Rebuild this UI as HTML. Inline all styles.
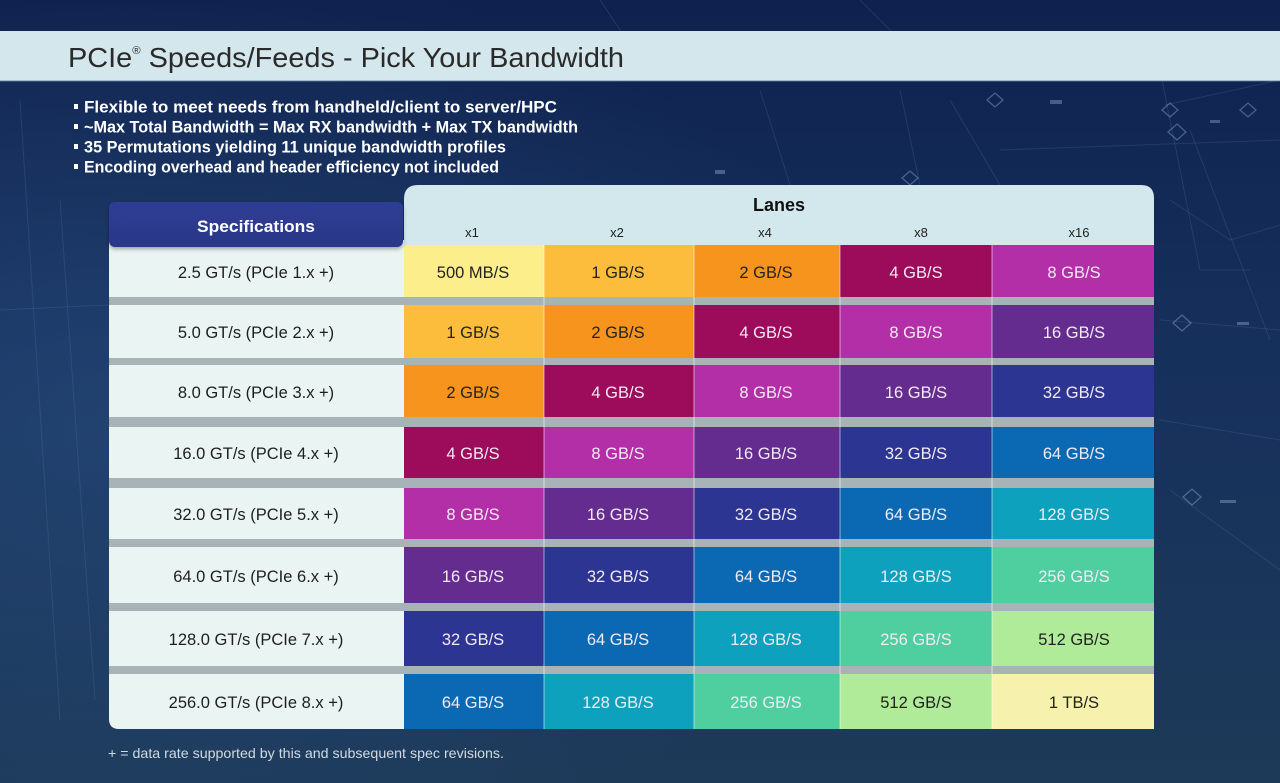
<!DOCTYPE html>
<html><head><meta charset="utf-8"><style>
html,body{margin:0;padding:0;width:1280px;height:783px;overflow:hidden;background:#152a52}
svg{display:block}
text{font-family:"Liberation Sans",sans-serif}
</style></head><body>
<svg width="1280" height="783" viewBox="0 0 1280 783" xmlns="http://www.w3.org/2000/svg">
<defs>
<linearGradient id="bg" x1="0" y1="0" x2="0" y2="1">
<stop offset="0" stop-color="#0f214e"/>
<stop offset="0.45" stop-color="#16305c"/>
<stop offset="1" stop-color="#1d3a58"/>
</linearGradient>
<radialGradient id="glow" cx="0.1" cy="0.55" r="0.6">
<stop offset="0" stop-color="#2a4f80" stop-opacity="0.55"/>
<stop offset="1" stop-color="#2a4f80" stop-opacity="0"/>
</radialGradient>
<linearGradient id="spec" x1="0" y1="0" x2="0" y2="1">
<stop offset="0" stop-color="#2f3d95"/>
<stop offset="1" stop-color="#2a3788"/>
</linearGradient>
<filter id="sh" x="-10%" y="-30%" width="120%" height="170%">
<feDropShadow dx="0" dy="2" stdDeviation="2" flood-color="#000" flood-opacity="0.35"/>
</filter>
</defs>
<rect x="0" y="0" width="1280" height="783" fill="url(#bg)"/>
<rect x="0" y="0" width="1280" height="783" fill="url(#glow)"/>
<!-- circuit decorations -->
<g stroke="#5f86b8" stroke-opacity="0.22" stroke-width="1" fill="none">
<path d="M1160 70 L1200 270 L1250 270"/>
<path d="M1165 105 L1280 80"/>
<path d="M1170 200 L1230 240 L1280 225"/>
<path d="M1190 130 L1270 340"/>
<path d="M1160 320 L1280 330"/>
<path d="M1160 420 L1280 440"/>
<path d="M1170 490 L1280 570"/>
<path d="M600 0 L640 60"/><path d="M860 0 L900 40"/>
<path d="M760 90 L790 185"/><path d="M900 90 L920 185"/>
<path d="M950 100 L1000 185"/><path d="M1000 150 L1280 140"/>
<path d="M20 100 L60 720"/><path d="M60 200 L95 700"/>
<path d="M0 310 L108 305"/>
</g>
<g stroke="#9fc3e6" stroke-opacity="0.4" stroke-width="1.2" fill="none">
<path d="M1188 65 l9 -8 l9 8 l-9 8z"/>
<path d="M1168 132 l9 -8 l9 8 l-9 8z"/>
<path d="M1173 323 l9 -8 l9 8 l-9 8z"/>
<path d="M1183 497 l9 -8 l9 8 l-9 8z"/>
<path d="M987 100 l8 -7 l8 7 l-8 7z"/>
<path d="M1162 110 l8 -7 l8 7 l-8 7z"/>
<path d="M902 178 l8 -7 l8 7 l-8 7z"/>
<path d="M1240 110 l8 -7 l8 7 l-8 7z"/>
</g>
<g fill="#8fb6dc" fill-opacity="0.4">
<rect x="1210" y="120" width="10" height="3"/>
<rect x="1237" y="322" width="12" height="3"/>
<rect x="1220" y="500" width="16" height="3"/>
<rect x="1180" y="72" width="12" height="3"/>
<rect x="715" y="170" width="10" height="4"/>
<rect x="1050" y="100" width="12" height="4"/>
</g>

<!-- title bar -->
<rect x="0" y="31" width="1280" height="50" fill="#d4e7ec"/>
<rect x="0" y="80" width="1280" height="1.5" fill="#7f9eb4" opacity="0.6"/>
<text x="68" y="67" font-size="28" fill="#2a2a2a" textLength="556" lengthAdjust="spacingAndGlyphs">PCIe<tspan font-size="11" dy="-13">®</tspan><tspan dy="13"> Speeds/Feeds - Pick Your Bandwidth</tspan></text>

<!-- bullets -->
<g fill="#ffffff">
<rect x="74" y="104" width="4" height="5"/>
<rect x="74" y="124" width="4" height="5"/>
<rect x="74" y="144" width="4" height="5"/>
<rect x="74" y="164" width="4" height="5"/>
</g>
<g font-size="17" font-weight="bold" fill="#ffffff">
<text x="84" y="112.5" textLength="473" lengthAdjust="spacingAndGlyphs">Flexible to meet needs from handheld/client to server/HPC</text>
<text x="84" y="132.5" textLength="494" lengthAdjust="spacingAndGlyphs">~Max Total Bandwidth = Max RX bandwidth + Max TX bandwidth</text>
<text x="84" y="152.5" textLength="422" lengthAdjust="spacingAndGlyphs">35 Permutations yielding 11 unique bandwidth profiles</text>
<text x="84" y="172.5" textLength="415" lengthAdjust="spacingAndGlyphs">Encoding overhead and header efficiency not included</text>
</g>

<!-- header panel -->
<path d="M404 247 L404 199 Q404 185 418 185 L1141 185 Q1154 185 1154 198 L1154 247 Z" fill="#d3e8ec"/>
<text x="779" y="211" font-size="18" font-weight="bold" fill="#111" text-anchor="middle">Lanes</text>
<g font-size="13" fill="#222" text-anchor="middle">
<text x="472" y="237">x1</text>
<text x="617" y="237">x2</text>
<text x="765" y="237">x4</text>
<text x="921" y="237">x8</text>
<text x="1079" y="237">x16</text>
</g>

<!-- left column -->
<path d="M109 240 L404 240 L404 729 L119 729 Q109 729 109 719 Z" fill="#eaf5f3"/>

<!-- gap bars -->
<g fill="#a8b3b8">
<rect x="109" y="297" width="1045" height="8"/>
<rect x="109" y="358" width="1045" height="7"/>
<rect x="109" y="417" width="1045" height="10"/>
<rect x="109" y="478" width="1045" height="10"/>
<rect x="109" y="539" width="1045" height="8"/>
<rect x="109" y="603" width="1045" height="8"/>
<rect x="109" y="666" width="1045" height="8"/>
</g>

<!-- cells -->
<g id="cells">
<rect x="404" y="245" width="140" height="52" fill="#fdee8c"/>
<rect x="544" y="245" width="150" height="52" fill="#fbbd3b"/>
<rect x="694" y="245" width="146" height="52" fill="#f7941e"/>
<rect x="840" y="245" width="152" height="52" fill="#9d0b5b"/>
<rect x="992" y="245" width="162" height="52" fill="#b32fa8"/>
<rect x="404" y="305" width="140" height="53" fill="#fbbd3b"/>
<rect x="544" y="305" width="150" height="53" fill="#f7941e"/>
<rect x="694" y="305" width="146" height="53" fill="#9d0b5b"/>
<rect x="840" y="305" width="152" height="53" fill="#b32fa8"/>
<rect x="992" y="305" width="162" height="53" fill="#642c8f"/>
<rect x="404" y="365" width="140" height="52" fill="#f7941e"/>
<rect x="544" y="365" width="150" height="52" fill="#9d0b5b"/>
<rect x="694" y="365" width="146" height="52" fill="#b32fa8"/>
<rect x="840" y="365" width="152" height="52" fill="#642c8f"/>
<rect x="992" y="365" width="162" height="52" fill="#2d3593"/>
<rect x="404" y="427" width="140" height="51" fill="#9d0b5b"/>
<rect x="544" y="427" width="150" height="51" fill="#b32fa8"/>
<rect x="694" y="427" width="146" height="51" fill="#642c8f"/>
<rect x="840" y="427" width="152" height="51" fill="#2d3593"/>
<rect x="992" y="427" width="162" height="51" fill="#0b69b4"/>
<rect x="404" y="488" width="140" height="51" fill="#b32fa8"/>
<rect x="544" y="488" width="150" height="51" fill="#642c8f"/>
<rect x="694" y="488" width="146" height="51" fill="#2d3593"/>
<rect x="840" y="488" width="152" height="51" fill="#0b69b4"/>
<rect x="992" y="488" width="162" height="51" fill="#0ea1bd"/>
<rect x="404" y="547" width="140" height="56" fill="#642c8f"/>
<rect x="544" y="547" width="150" height="56" fill="#2d3593"/>
<rect x="694" y="547" width="146" height="56" fill="#0b69b4"/>
<rect x="840" y="547" width="152" height="56" fill="#0ea1bd"/>
<rect x="992" y="547" width="162" height="56" fill="#4fce9f"/>
<rect x="404" y="611" width="140" height="55" fill="#2d3593"/>
<rect x="544" y="611" width="150" height="55" fill="#0b69b4"/>
<rect x="694" y="611" width="146" height="55" fill="#0ea1bd"/>
<rect x="840" y="611" width="152" height="55" fill="#4fce9f"/>
<rect x="992" y="611" width="162" height="55" fill="#afeb98"/>
<rect x="404" y="674" width="140" height="55" fill="#0b69b4"/>
<rect x="544" y="674" width="150" height="55" fill="#0ea1bd"/>
<rect x="694" y="674" width="146" height="55" fill="#4fce9f"/>
<rect x="840" y="674" width="152" height="55" fill="#afeb98"/>
<rect x="992" y="674" width="162" height="55" fill="#f6f2ae"/>
</g>
<!-- thin separators -->
<g fill="#ffffff" opacity="0.55">
<rect x="543.5" y="245" width="1" height="484"/>
<rect x="693.5" y="245" width="1" height="484"/>
<rect x="839.5" y="245" width="1" height="484"/>
<rect x="991.5" y="245" width="1" height="484"/>
</g>

<!-- specifications box -->
<rect x="109" y="202" width="294" height="45" rx="6" fill="url(#spec)" filter="url(#sh)"/>
<text x="256" y="232" font-size="17" font-weight="bold" fill="#ffffff" text-anchor="middle" textLength="118" lengthAdjust="spacingAndGlyphs">Specifications</text>

<!-- row labels -->
<g font-size="16.5" fill="#1e1e1e" text-anchor="middle">
<text x="256" y="278">2.5 GT/s (PCIe 1.x +)</text>
<text x="256" y="338">5.0 GT/s (PCIe 2.x +)</text>
<text x="256" y="398">8.0 GT/s (PCIe 3.x +)</text>
<text x="256" y="459">16.0 GT/s (PCIe 4.x +)</text>
<text x="256" y="520">32.0 GT/s (PCIe 5.x +)</text>
<text x="256" y="582">64.0 GT/s (PCIe 6.x +)</text>
<text x="256" y="645">128.0 GT/s (PCIe 7.x +)</text>
<text x="256" y="708">256.0 GT/s (PCIe 8.x +)</text>
</g>

<!-- cell values -->
<g font-size="16.5" text-anchor="middle">
<g fill="#222">
<text x="473" y="278">500 MB/S</text>
<text x="618" y="278">1 GB/S</text>
<text x="766" y="278">2 GB/S</text>
<text x="473" y="338">1 GB/S</text>
<text x="618" y="338">2 GB/S</text>
<text x="473" y="398">2 GB/S</text>
<text x="1074" y="645">512 GB/S</text>
<text x="916" y="708">512 GB/S</text>
<text x="1074" y="708">1 TB/S</text>
</g>
<g fill="#f2eaf4">
<text x="916" y="278">4 GB/S</text>
<text x="1074" y="278">8 GB/S</text>
<text x="766" y="338">4 GB/S</text>
<text x="916" y="338">8 GB/S</text>
<text x="1074" y="338">16 GB/S</text>
<text x="618" y="398">4 GB/S</text>
<text x="766" y="398">8 GB/S</text>
<text x="916" y="398">16 GB/S</text>
<text x="1074" y="398">32 GB/S</text>
<text x="473" y="459">4 GB/S</text>
<text x="618" y="459">8 GB/S</text>
<text x="766" y="459">16 GB/S</text>
<text x="916" y="459">32 GB/S</text>
<text x="1074" y="459">64 GB/S</text>
<text x="473" y="520">8 GB/S</text>
<text x="618" y="520">16 GB/S</text>
<text x="766" y="520">32 GB/S</text>
<text x="916" y="520">64 GB/S</text>
<text x="1074" y="520">128 GB/S</text>
<text x="473" y="582">16 GB/S</text>
<text x="618" y="582">32 GB/S</text>
<text x="766" y="582">64 GB/S</text>
<text x="916" y="582">128 GB/S</text>
<text x="1074" y="582">256 GB/S</text>
<text x="473" y="645">32 GB/S</text>
<text x="618" y="645">64 GB/S</text>
<text x="766" y="645">128 GB/S</text>
<text x="916" y="645">256 GB/S</text>
<text x="473" y="708">64 GB/S</text>
<text x="618" y="708">128 GB/S</text>
<text x="766" y="708">256 GB/S</text>
</g>
</g>

<!-- footnote -->
<text x="108" y="758" font-size="14" fill="#d2d9e1" textLength="396" lengthAdjust="spacingAndGlyphs">+ = data rate supported by this and subsequent spec revisions.</text>
</svg>
</body></html>
